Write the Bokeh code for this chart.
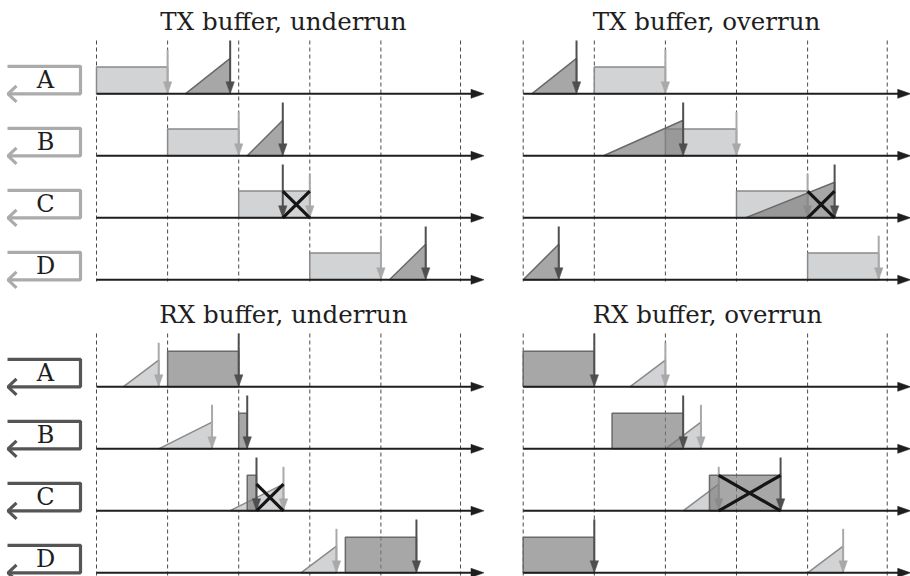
from bokeh.plotting import figure
from bokeh.models import Range1d
from bokeh.core.properties import value
from bokeh.embed import file_html
from bokeh.resources import INLINE

# ---------------- data (time measured in slot units) ----------------
titles = ["TX buffer, underrun", "TX buffer, overrun",
          "RX buffer, underrun", "RX buffer, overrun"]
row_labels = ["A", "B", "C", "D"]
slot_lines = [0, 1, 2, 3, 4, 5.12]

# TX underrun: light blocks are rectangles, dark blocks are ramps
txu_light_row = [0, 1, 2, 3]
txu_light_t0 = [0, 1, 2, 3]
txu_light_t1 = [1, 2, 3, 4]
txu_dark_row = [0, 1, 3]
txu_dark_t0 = [1.25, 2.12, 4.12]
txu_dark_t1 = [1.88, 2.62, 4.63]
txu_larrow_row = [0, 1, 2, 3]
txu_larrow_t = [1, 2, 3, 4]
txu_darrow_row = [0, 1, 2, 3]
txu_darrow_t = [1.88, 2.62, 2.62, 4.63]
txu_cross_row = [2]
txu_cross_t0 = [2.62]
txu_cross_t1 = [3.0]

# TX overrun
txo_light_row = [0, 1, 2, 3]
txo_light_t0 = [1, 2, 3, 4]
txo_light_t1 = [2, 3, 4, 5]
txo_dark_row = [0, 1, 2, 3]
txo_dark_t0 = [0.12, 1.13, 3.13, 0.0]
txo_dark_t1 = [0.75, 2.25, 4.38, 0.5]
txo_larrow_row = [0, 1, 2, 3]
txo_larrow_t = [2, 3, 4, 5]
txo_darrow_row = [0, 1, 2, 3]
txo_darrow_t = [0.75, 2.25, 4.38, 0.5]
txo_cross_row = [2]
txo_cross_t0 = [4.0]
txo_cross_t1 = [4.38]

# RX underrun: light blocks are ramps, dark blocks are rectangles
rxu_light_row = [0, 1, 2, 3]
rxu_light_t0 = [0.375, 0.875, 1.875, 2.875]
rxu_light_t1 = [0.875, 1.625, 2.63, 3.375]
rxu_dark_row = [0, 1, 2, 3]
rxu_dark_t0 = [1.0, 2.0, 2.12, 3.5]
rxu_dark_t1 = [2.0, 2.12, 2.25, 4.5]
rxu_larrow_row = [0, 1, 2, 3]
rxu_larrow_t = [0.875, 1.625, 2.63, 3.375]
rxu_darrow_row = [0, 1, 2, 3]
rxu_darrow_t = [2.0, 2.12, 2.25, 4.5]
rxu_cross_row = [2]
rxu_cross_t0 = [2.25]
rxu_cross_t1 = [2.63]

# RX overrun
rxo_light_row = [0, 1, 2, 3]
rxo_light_t0 = [1.5, 2.0, 2.25, 4.0]
rxo_light_t1 = [2.0, 2.5, 2.75, 4.5]
rxo_dark_row = [0, 1, 2, 3]
rxo_dark_t0 = [0.0, 1.25, 2.62, 0.0]
rxo_dark_t1 = [1.0, 2.25, 3.62, 1.0]
rxo_larrow_row = [0, 1, 2, 3]
rxo_larrow_t = [2.0, 2.5, 2.75, 4.5]
rxo_darrow_row = [0, 1, 2, 3]
rxo_darrow_t = [1.0, 2.25, 3.62, 1.0]
rxo_cross_row = [2]
rxo_cross_t0 = [2.75]
rxo_cross_t1 = [3.62]

# ---------------- layout / style ----------------
U = 71.1                      # px per slot
ORIGIN_X = [96.0, 522.7, 96.0, 522.7]
BASE0 = [93.3, 93.3, 386.3, 386.3]
ROW_DY = 62.0
AXIS_END = 5.45
H_LIGHT, H_DARK = 26.7, 35.5
H_LARROW, H_DARROW = 44.0, 53.3
HEAD_L, HEAD_W = 12.0, 4.2
LIGHT_FILL, LIGHT_EDGE = "#d2d3d5", "#8a8a8a"
DARK_FILL, DARK_EDGE = "#7e7e7e", "#6a6a6a"
LARROW_C, DARROW_C = "#a9a9a9", "#4f4f4f"
FONT = "DejaVu Serif"

panels = [
    dict(kind="TX", light=(txu_light_row, txu_light_t0, txu_light_t1), dark=(txu_dark_row, txu_dark_t0, txu_dark_t1),
         la=(txu_larrow_row, txu_larrow_t), da=(txu_darrow_row, txu_darrow_t),
         cr=(txu_cross_row, txu_cross_t0, txu_cross_t1), cross_h=H_LIGHT),
    dict(kind="TX", light=(txo_light_row, txo_light_t0, txo_light_t1), dark=(txo_dark_row, txo_dark_t0, txo_dark_t1),
         la=(txo_larrow_row, txo_larrow_t), da=(txo_darrow_row, txo_darrow_t),
         cr=(txo_cross_row, txo_cross_t0, txo_cross_t1), cross_h=H_LIGHT),
    dict(kind="RX", light=(rxu_light_row, rxu_light_t0, rxu_light_t1), dark=(rxu_dark_row, rxu_dark_t0, rxu_dark_t1),
         la=(rxu_larrow_row, rxu_larrow_t), da=(rxu_darrow_row, rxu_darrow_t),
         cr=(rxu_cross_row, rxu_cross_t0, rxu_cross_t1), cross_h=H_LIGHT),
    dict(kind="RX", light=(rxo_light_row, rxo_light_t0, rxo_light_t1), dark=(rxo_dark_row, rxo_dark_t0, rxo_dark_t1),
         la=(rxo_larrow_row, rxo_larrow_t), da=(rxo_darrow_row, rxo_darrow_t),
         cr=(rxo_cross_row, rxo_cross_t0, rxo_cross_t1), cross_h=H_DARK),
]

p = figure(width=910, height=576, x_range=Range1d(0, 910), y_range=Range1d(576, 0),
           x_axis_type=None, y_axis_type=None, output_backend="svg", toolbar_location=None,
           min_border=0, min_border_left=0, min_border_right=0, min_border_top=0, min_border_bottom=0)
p.grid.visible = False
p.outline_line_color = None
p.background_fill_color = "white"


def X(pi, t):
    return ORIGIN_X[pi] + t * U


def Y(pi, r):
    return BASE0[pi] + r * ROW_DY


def shape(pi, r, t0, t1, h, rect):
    x0, x1, yb = X(pi, t0), X(pi, t1), Y(pi, r)
    if rect:
        return [x0, x1, x1, x0], [yb, yb, yb - h, yb - h]
    return [x0, x1, x1], [yb, yb, yb - h]


def arrows(pi, rows, ts, h, color):
    xs0, ys0, ys1, hx, hy = [], [], [], [], []
    for r, t in zip(rows, ts):
        x, yb = X(pi, t), Y(pi, r)
        xs0.append(x); ys0.append(yb - h); ys1.append(yb - HEAD_L + 1)
        hx.append([x - HEAD_W, x + HEAD_W, x]); hy.append([yb - HEAD_L, yb - HEAD_L, yb])
    p.segment(x0=xs0, y0=ys0, x1=xs0, y1=ys1, line_color=color, line_width=2)
    p.patches(hx, hy, fill_color=color, line_color=color, line_width=0.5)


# dashed slot boundaries
for pi in range(4):
    if pi in (0, 1):
        ytop, ybot = 40, 281
    else:
        ytop, ybot = 333, 576
    xs = [X(pi, t) for t in slot_lines]
    p.segment(x0=xs, y0=[ytop] * len(xs), x1=xs, y1=[ybot] * len(xs),
              line_color="#4a4a4a", line_width=1, line_dash="4 3")

for pi, pn in enumerate(panels):
    tx = pn["kind"] == "TX"
    # light shapes
    lx, ly = [], []
    for r, t0, t1 in zip(*pn["light"]):
        a, b = shape(pi, r, t0, t1, H_LIGHT, rect=tx)
        lx.append(a); ly.append(b)
    p.patches(lx, ly, fill_color=LIGHT_FILL, line_color=LIGHT_EDGE, line_width=1.5)
    arrows(pi, pn["la"][0], pn["la"][1], H_LARROW, LARROW_C)
    # dark shapes
    dx, dy = [], []
    for r, t0, t1 in zip(*pn["dark"]):
        a, b = shape(pi, r, t0, t1, H_DARK, rect=not tx)
        dx.append(a); dy.append(b)
    p.patches(dx, dy, fill_color=DARK_FILL, fill_alpha=0.68, line_color=DARK_EDGE, line_width=1.5)
    arrows(pi, pn["da"][0], pn["da"][1], H_DARROW, DARROW_C)
    # time axes
    ax_x0, ax_y, hx, hy = [], [], [], []
    for r in range(4):
        yb = Y(pi, r)
        ax_x0.append(X(pi, 0)); ax_y.append(yb)
        xe = X(pi, AXIS_END)
        hx.append([xe - 13, xe - 13, xe]); hy.append([yb - 4.5, yb + 4.5, yb])
    p.segment(x0=ax_x0, y0=ax_y, x1=[X(pi, AXIS_END) - 10] * 4, y1=ax_y, line_color="#1e1e1e", line_width=2)
    p.patches(hx, hy, fill_color="#1e1e1e", line_color="#1e1e1e", line_width=0.5)
    # crosses
    cx, cy = [], []
    for r, t0, t1 in zip(*pn["cr"]):
        x0, x1, yb = X(pi, t0), X(pi, t1), Y(pi, r)
        yt = yb - pn["cross_h"]
        cx += [[x0, x1], [x0, x1]]; cy += [[yt, yb], [yb, yt]]
    p.multi_line(cx, cy, line_color="#151515", line_width=3.2)

# titles (y = visual middle of the capitals)
tit_x = [283, 706, 283, 707]
tit_y = [20.5, 20.5, 313.8, 313.8]
p.text(x=tit_x, y=tit_y, text=titles, text_font=value(FONT), text_font_size="24.5px",
       text_align="center", text_baseline="middle", text_color="#1e1e1e")

# row label boxes on the left
for pi, col in ((0, "#ababab"), (2, "#555555")):
    bx, by, lx_, ly_ = [], [], [], []
    for r in range(4):
        yb = Y(pi, r)
        yt = yb - 27.5
        bx.append([7, 80, 80, 8]); by.append([yt, yt, yb, yb])
        bx.append([16, 7.5, 16]); by.append([yb - 8, yb, yb + 8])
        lx_.append(45); ly_.append(yb - 14)
    p.multi_line(bx, by, line_color=col, line_width=3.2)
    p.text(x=lx_, y=ly_, text=row_labels, text_font=value(FONT), text_font_size="24px",
           text_align="center", text_baseline="middle", text_color="#1e1e1e")

open("out.html", "w").write(file_html(p, INLINE))
